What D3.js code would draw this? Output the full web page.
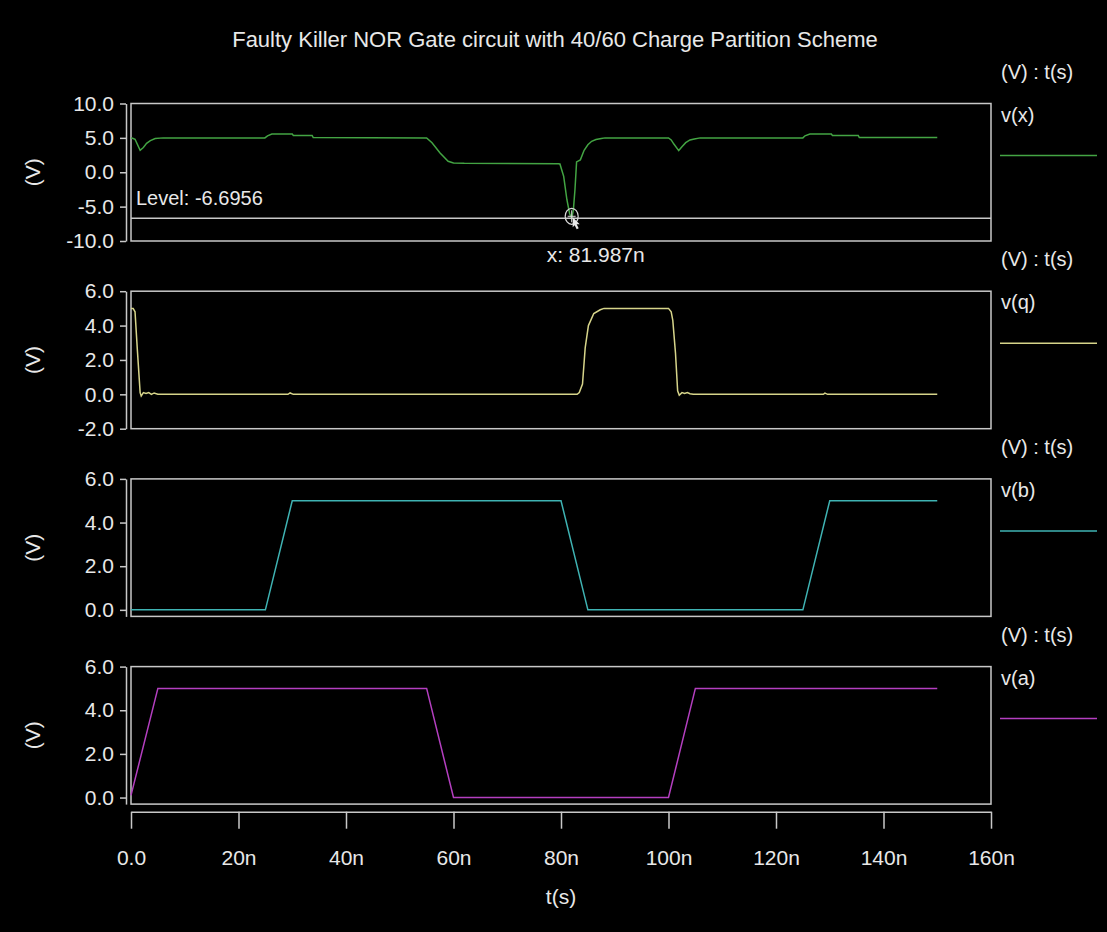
<!DOCTYPE html>
<html>
<head>
  <title>Faulty Killer NOR Gate circuit</title>
  <script src="https://d3js.org/d3.v7.min.js"></script>
  <style>
    body { margin: 0; background: #000; }
    text { font-family: "Liberation Sans", Arial, sans-serif; fill: #e8e8e8; }
    .axis path, .axis line { stroke: #c8c8c8; stroke-width: 1.5; }
    .axis text { font-size: 21px; fill: #e8e8e8; }
  </style>
</head>
<body>
  <svg id="chart" width="1107" height="932"></svg>

  <script>
    const title = "Faulty Killer NOR Gate circuit with 40/60 Charge Partition Scheme";

    // time in ns, values in volts
    const tX = [0, 0.3, 0.75, 1.7, 2.3, 2.9, 3.6, 4.5, 6, 24.9, 25.4, 26.2, 30.0, 30.2, 33.7, 33.9, 55, 56, 57.5, 59, 60, 62, 79.5,
                79.8, 80.5, 81.1, 81.6, 81.987, 82.3, 82.6, 82.9, 83.6, 84.3, 85, 85.7, 86.5, 87.5, 88.2,
                100, 100.5, 101, 101.9, 102.5, 103.2, 104, 104.8, 105.9, 125, 125.4, 126.3, 130.3, 130.5, 135.3, 135.5, 150];
    const vX = [5.0, 4.95, 4.8, 3.2, 3.6, 4.2, 4.6, 4.9, 5.0, 5.0, 5.3, 5.55, 5.55, 5.35, 5.35, 5.05, 5.0, 4.3, 2.8, 1.6, 1.35, 1.3, 1.25,
                1.2, -0.6, -4.0, -6.0, -6.7, -5.5, -2.5, 1.5, 1.8, 3.2, 4.0, 4.5, 4.75, 4.9, 5.0,
                5.0, 4.7, 4.1, 3.15, 3.7, 4.3, 4.7, 4.85, 5.0, 5.0, 5.3, 5.55, 5.55, 5.35, 5.35, 5.05, 5.05];

    const tQ = [0, 0.4, 0.75, 1.2, 1.7, 1.9, 2.3, 2.8, 3.3, 3.8, 4.3, 5, 29.2, 29.6, 30.2,
                83.0, 83.4, 84.0, 84.5, 85.1, 86.1, 87.3, 88, 100, 100.5, 100.8, 101.3, 101.7, 102, 102.5, 103, 103.5, 104, 104.6,
                128.8, 129.1, 129.6, 150];
    const vQ = [5.0, 5.0, 4.8, 2.5, 0.1, -0.1, 0.1, 0.05, 0.1, 0.0, 0.08, 0.0, 0.0, 0.08, 0.0,
                0.0, 0.1, 0.6, 2.7, 4.0, 4.7, 4.92, 5.0, 5.0, 4.8, 4.3, 2.4, 0.2, -0.05, 0.1, 0.05, 0.1, 0.03, 0.0,
                0.0, 0.07, 0.0, 0.0];

    const tB = [0, 25, 30, 80, 85, 125, 130, 150];
    const vB = [0, 0, 5, 5, 0, 0, 5, 5];

    const tA = [0, 5, 55, 60, 100, 105, 150];
    const vA = [0.1, 5, 5, 0, 0, 5, 5];

    const xTicks = [0, 20, 40, 60, 80, 100, 120, 140, 160];
    const xTickLabels = ["0.0", "20n", "40n", "60n", "80n", "100n", "120n", "140n", "160n"];

    // cursor readout on the v(x) panel
    const levelValue = -6.6956;
    const cursorTime = 81.987;

    const panels = [
      { name: "v(x)", t: tX, v: vX, domain: [-10, 10], ticks: [-10, -5, 0, 5, 10], color: "#43a443" },
      { name: "v(q)", t: tQ, v: vQ, domain: [-2, 6], ticks: [-2, 0, 2, 4, 6], color: "#d6d48a" },
      { name: "v(b)", t: tB, v: vB, domain: [-0.3, 6], ticks: [0, 2, 4, 6], color: "#3fb3b3" },
      { name: "v(a)", t: tA, v: vA, domain: [-0.3, 6], ticks: [0, 2, 4, 6], color: "#b43fc0" }
    ];

    const svg = d3.select("#chart");
    svg.append("rect").attr("width", 1107).attr("height", 932).attr("fill", "#000");

    const left = 131, right = 991;
    const firstTop = 103.5, panelH = 137.5, step = 187.7;

    const x = d3.scaleLinear().domain([0, 160]).range([left, right]);

    svg.append("text")
      .attr("x", 555).attr("y", 47)
      .attr("text-anchor", "middle")
      .style("font-size", "22px")
      .text(title);

    panels.forEach((p, i) => {
      const top = firstTop + i * step;
      const y = d3.scaleLinear().domain(p.domain).range([top + panelH, top]);

      // frame
      svg.append("rect")
        .attr("x", left).attr("y", top)
        .attr("width", right - left).attr("height", panelH)
        .attr("fill", "none").attr("stroke", "#c8c8c8").attr("stroke-width", 1.5);

      // y axis
      svg.append("g")
        .attr("class", "axis")
        .attr("transform", "translate(126,0)")
        .call(d3.axisLeft(y).tickValues(p.ticks).tickSize(6).tickSizeOuter(0).tickPadding(6)
          .tickFormat(d => d.toFixed(1)));

      svg.append("text")
        .attr("transform", `translate(40,${top + panelH / 2}) rotate(-90)`)
        .attr("text-anchor", "middle")
        .style("font-size", "21px")
        .text("(V)");

      // signal
      const line = d3.line().x(d => x(d[0])).y(d => y(d[1]));
      svg.append("path")
        .datum(d3.zip(p.t, p.v))
        .attr("d", line)
        .attr("fill", "none")
        .attr("stroke", p.color)
        .attr("stroke-width", 1.5);

      // legend
      svg.append("text").attr("x", 1001).attr("y", top - 25).style("font-size", "20px").text("(V) : t(s)");
      svg.append("text").attr("x", 1001).attr("y", top + 18).style("font-size", "20px").text(p.name);
      svg.append("line")
        .attr("x1", 1000).attr("x2", 1097)
        .attr("y1", top + 52).attr("y2", top + 52)
        .attr("stroke", p.color).attr("stroke-width", 1.5);

      if (i === 0) {
        const ly = y(levelValue);
        svg.append("line")
          .attr("x1", left).attr("x2", right).attr("y1", ly).attr("y2", ly)
          .attr("stroke", "#c8c8c8").attr("stroke-width", 1.5);
        svg.append("text").attr("x", 136).attr("y", ly - 13).style("font-size", "20px")
          .text("Level: " + levelValue.toFixed(4));
        const cx = x(cursorTime);
        svg.append("ellipse").attr("cx", cx).attr("cy", ly - 2).attr("rx", 6.5).attr("ry", 8)
          .attr("fill", "none").attr("stroke", "#d8d8d8").attr("stroke-width", 1.2);
        svg.append("path")
          .attr("d", `M${cx - 4},${ly - 2}H${cx + 4}M${cx},${ly - 8}V${ly + 4}`)
          .attr("stroke", "#d8d8d8").attr("stroke-width", 1);
        svg.append("path")
          .attr("d", `M${cx + 1},${ly - 1}l7,7l-3,0l2,4l-2,1l-2,-4l-2,2z`)
          .attr("fill", "#e8e8e8");
        svg.append("text").attr("x", cx + 24).attr("y", top + panelH + 21)
          .attr("text-anchor", "middle").style("font-size", "21px")
          .text("x: " + cursorTime + "n");
      }
    });

    // time axis
    svg.append("g")
      .attr("class", "axis")
      .attr("transform", "translate(0,811.7)")
      .call(d3.axisBottom(x).tickValues(xTicks).tickSize(17).tickSizeOuter(0).tickPadding(21)
        .tickFormat((d, i) => xTickLabels[i]));

    svg.append("text")
      .attr("x", 561).attr("y", 904)
      .attr("text-anchor", "middle")
      .style("font-size", "21px")
      .text("t(s)");
  </script>
</body>
</html>
